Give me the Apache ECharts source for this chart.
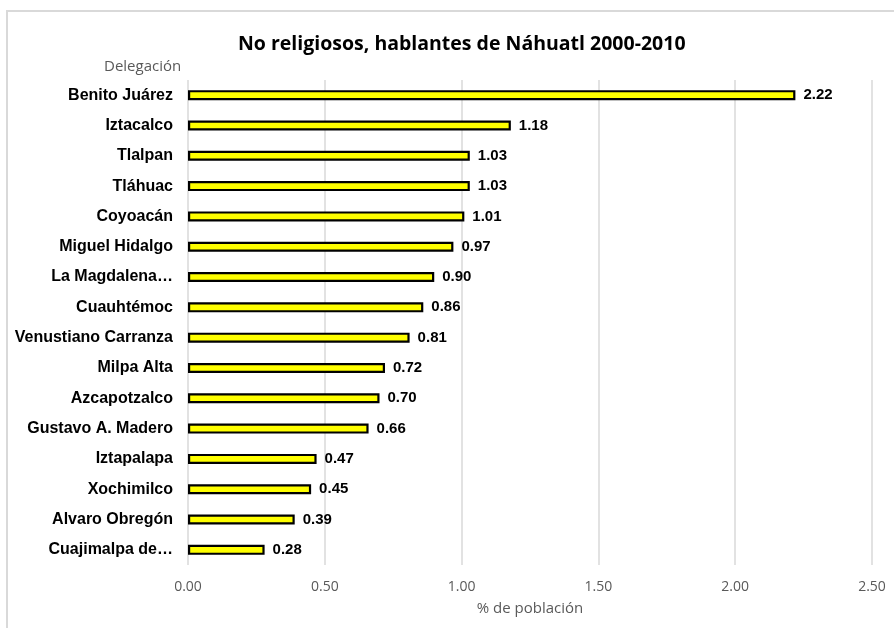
<!DOCTYPE html>
<html>
<head>
<meta charset="utf-8">
<script src="https://cdn.jsdelivr.net/npm/echarts@6/dist/echarts.min.js"></script>
<style>
html,body{margin:0;padding:0;background:#fff;}
#c{width:894px;height:628px;}
</style>
</head>
<body>
<div id="c"></div>
<script>
const categories = ["Benito Juárez","Iztacalco","Tlalpan","Tláhuac","Coyoacán","Miguel Hidalgo","La Magdalena…","Cuauhtémoc","Venustiano Carranza","Milpa Alta","Azcapotzalco","Gustavo A. Madero","Iztapalapa","Xochimilco","Alvaro Obregón","Cuajimalpa de…"];
const values = [2.22,1.18,1.03,1.03,1.01,0.97,0.90,0.86,0.81,0.72,0.70,0.66,0.47,0.45,0.39,0.28];
const xTicks = [0,0.5,1,1.5,2,2.5];
const titleText = "No religiosos, hablantes de Náhuatl 2000-2010";
const yAxisTitle = "Delegación";
const xAxisTitle = "% de población";

const chart = echarts.init(document.getElementById('c'), null, {renderer:'canvas'});
chart.setOption({
  animation:false,
  backgroundColor:'#fff',
  graphic:[{type:'rect',shape:{x:7,y:11,width:920,height:640},style:{fill:'none',stroke:'#d9d9d9',lineWidth:2},silent:true}],
  title:[
    {text:titleText,left:233,top:29,textStyle:{fontFamily:'Open Sans',fontWeight:'bold',fontSize:19.5,color:'#000'}},
    {text:yAxisTitle,left:99,top:54,textStyle:{fontFamily:'Open Sans',fontWeight:'normal',fontSize:15,color:'#595959'}}
  ],
  grid:{left:188,right:22,top:80,height:485,containLabel:false},
  xAxis:{type:'value',min:0,max:2.5,interval:0.5,
    axisLine:{show:false},axisTick:{show:false},
    splitLine:{show:true,lineStyle:{color:'#d9d9d9',width:1.5}},
    axisLabel:{margin:15,color:'#595959',fontFamily:'Open Sans',fontSize:14,
      formatter:v=>v.toFixed(2)},
    name:xAxisTitle,nameLocation:'middle',nameGap:36,
    nameTextStyle:{color:'#595959',fontFamily:'Open Sans',fontSize:15}},
  yAxis:{type:'category',data:categories,inverse:true,
    axisLine:{show:false},axisTick:{show:false},
    axisLabel:{margin:15,color:'#000',fontFamily:'Liberation Sans, Arial',fontWeight:'bold',fontSize:16}},
  series:[{type:'bar',data:values,barWidth:10,
    itemStyle:{color:'#ffff00',borderColor:'#000',borderWidth:2.2},
    label:{show:true,position:'right',distance:8,formatter:p=>p.value.toFixed(2),
      color:'#000',fontFamily:'Liberation Sans, Arial',fontWeight:'bold',fontSize:15}}]
});
</script>
</body>
</html>
